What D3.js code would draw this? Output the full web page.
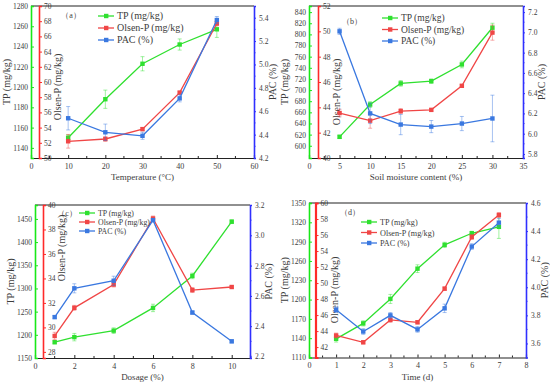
<!DOCTYPE html>
<html>
<head>
    <meta charset="UTF-8">
    <title>TP, Olsen-P and PAC</title>
<style>
    body { margin: 0; background: #fff; }
    svg text { font-family: "Liberation Serif", "Times New Roman", Times, serif !important; font-weight: normal; }
</style>
</head>
<body>
<svg width="550" height="386"></svg>
<script src="https://d3js.org/d3.v7.min.js"></script>
<script>

    // ---- data ----
    var tempX = [10, 20, 30, 40, 50];
    var tempTP = [1150, 1188, 1223, 1242, 1257];
    var tempTPErr = [3, 9, 7, 5.5, 8];
    var tempOlsen = [52.2, 52.5, 53.8, 58.6, 67.7];
    var tempOlsenErr = [0.9, 0.3, 0.2, 0.2, 0.3];
    var tempPAC = [4.54, 4.42, 4.39, 4.71, 5.38];
    var tempPACErr = [0.1, 0.07, 0.03, 0.03, 0.03];

    var moistX = [5, 10, 15, 20, 25, 30];
    var moistTP = [616, 674, 712, 716, 746, 812];
    var moistTPErr = [3, 5, 5, 4, 6, 8];
    var moistOlsen = [43.55, 42.95, 43.7, 43.8, 45.7, 49.9];
    var moistOlsenErr = [0.3, 0.6, 0.2, 0.1, 0.1, 0.6];
    var moistPAC = [7.01, 6.20, 6.09, 6.07, 6.10, 6.15];
    var moistPACErr = [0.03, 0.1, 0.1, 0.06, 0.07, 0.23];

    var doseX = [1, 2, 4, 6, 8, 10];
    var doseTP = [1184, 1195, 1209, 1258, 1327, 1444];
    var doseTPErr = [3, 8, 6, 8, 6, 4];
    var doseOlsen = [29.3, 31.6, 33.5, 38.9, 33.05, 33.3];
    var doseOlsenErr = [0.3, 0.2, 0.2, 0.2, 0.2, 0.1];
    var dosePAC = [2.46, 2.65, 2.70, 3.10, 2.49, 2.30];
    var dosePACErr = [0.01, 0.03, 0.03, 0.01, 0.01, 0.01];

    var timeX = [1, 2, 3, 4, 5, 6, 7];
    var timeTP = [1139, 1163, 1201, 1248, 1285, 1303, 1313];
    var timeTPErr = [5, 4, 7, 6, 4, 3, 18];
    var timeOlsen = [43.45, 42.6, 45.4, 45.1, 49.3, 55.75, 58.5];
    var timeOlsenErr = [0.3, 0.2, 0.3, 0.2, 0.2, 0.3, 0.3];
    var timePAC = [3.84, 3.685, 3.80, 3.70, 3.85, 4.29, 4.46];
    var timePACErr = [0.02, 0.02, 0.02, 0.02, 0.03, 0.02, 0.03];

    var seriesNames = ["TP (mg/kg)", "Olsen-P (mg/kg)", "PAC (%)"];

    var green = "#2fe02f", red = "#f04646", blue = "#3a78e0";
    var greenAxis = "#18e818", redAxis = "#ff2a2a", blueAxis = "#3030ff";
    var serif = "'Liberation Serif', 'Times New Roman', serif";
    var txt = "#3c3c3c";

    var svg = d3.select("svg");

    function rangeTicks(a, b, s) {
        return d3.range(a, b + s / 2, s).map(function(v) { return +v.toFixed(3); });
    }

    function styleTicks(sel, size) {
        sel.attr("font-family", serif);
        sel.selectAll("text").attr("font-size", size).attr("fill", txt);
    }

    function drawPanel(p) {
        var g = svg.append("g").attr("font-family", serif);

        var x = d3.scaleLinear().domain(p.xDomain).range([p.xL, p.xR]);
        var yTP = d3.scaleLinear().domain(p.tpDomain).range([p.yB, p.yT]);
        var yOl = d3.scaleLinear().domain(p.olDomain).range([p.yB, p.yT]);
        var yPAC = d3.scaleLinear().domain(p.pacDomain).range([p.yB, p.yT]);

        // top of the frame
        g.append("line").attr("x1", p.xL).attr("x2", p.xR).attr("y1", p.yT).attr("y2", p.yT)
            .attr("stroke", "#222").attr("stroke-width", 1.2);

        // x axis
        var xAxis = d3.axisBottom(x).tickValues(p.xTicks).tickSize(-3).tickPadding(5)
            .tickFormat(d3.format("d"));
        var gx = g.append("g").attr("transform", "translate(0," + p.yB + ")").call(xAxis);
        gx.select(".domain").attr("stroke", "#222").attr("stroke-width", 1.2);
        gx.selectAll(".tick line").attr("stroke", "#222");
        styleTicks(gx, 8);
        var minor = [];
        for (var i = 0; i < p.xTicks.length; i++) {
            var mid = p.xTicks[i] + p.xStep / 2;
            if (mid < p.xDomain[1]) minor.push(mid);
        }
        g.selectAll(".xminor").data(minor).enter().append("line")
            .attr("x1", function(d) { return x(d); }).attr("x2", function(d) { return x(d); })
            .attr("y1", p.yB).attr("y2", p.yB - 2).attr("stroke", "#222");

        // TP axis (green, outer left)
        var gTP = g.append("g").attr("transform", "translate(" + p.xL + ",0)")
            .call(d3.axisLeft(yTP).tickValues(p.tpTicks).tickSize(-3).tickPadding(3)
                .tickFormat(d3.format("d")));
        gTP.select(".domain").attr("stroke", greenAxis).attr("stroke-width", 1.6);
        gTP.selectAll(".tick line").attr("stroke", greenAxis);
        styleTicks(gTP, 7.5);

        // Olsen-P axis (red, inner left, labels inside the plot)
        var gOl = g.append("g").attr("transform", "translate(" + p.redX + ",0)")
            .call(d3.axisRight(yOl).tickValues(p.olTicks).tickSize(3).tickPadding(2)
                .tickFormat(d3.format("d")));
        gOl.select(".domain").attr("stroke", redAxis).attr("stroke-width", p.redW || 1.6);
        gOl.selectAll(".tick line").attr("stroke", redAxis);
        styleTicks(gOl, 7.5);

        // PAC axis (blue, right)
        var gP = g.append("g").attr("transform", "translate(" + p.xR + ",0)")
            .call(d3.axisRight(yPAC).tickValues(p.pacTicks).tickSize(2).tickPadding(3)
                .tickFormat(d3.format(".1f")));
        gP.select(".domain").attr("stroke", blueAxis).attr("stroke-width", 1.6);
        gP.selectAll(".tick line").attr("stroke", blueAxis);
        styleTicks(gP, 7.5);
        var pMinor = [];
        for (var j = 0; j < p.pacTicks.length; j++) {
            var pm = p.pacTicks[j] + 0.1;
            if (pm < p.pacDomain[1]) pMinor.push(pm);
        }
        g.selectAll(".pminor").data(pMinor).enter().append("line")
            .attr("x1", p.xR).attr("x2", p.xR + 1.5)
            .attr("y1", function(d) { return yPAC(d); }).attr("y2", function(d) { return yPAC(d); })
            .attr("stroke", blueAxis);

        // axis titles
        var midY = (p.yT + p.yB) / 2;
        g.append("text").attr("transform", "translate(" + (p.xL - 21) + "," + midY + ") rotate(-90)")
            .attr("text-anchor", "middle").attr("font-size", 10).attr("fill", txt).text("TP (mg/kg)");
        g.append("text").attr("transform", "translate(" + (p.redX + 22) + "," + p.olTitleY + ") rotate(-90)")
            .attr("text-anchor", "middle").attr("font-size", 10).attr("fill", txt).text("Olsen-P (mg/kg)");
        g.append("text").attr("transform", "translate(" + (p.xR + 22) + "," + midY + ") rotate(-90)")
            .attr("text-anchor", "middle").attr("font-size", 10).attr("fill", txt).text("PAC (%)");
        g.append("text").attr("x", (p.xL + p.xR) / 2).attr("y", p.yB + 22)
            .attr("text-anchor", "middle").attr("font-size", 9).attr("fill", txt).text(p.xTitle);
        g.append("text").attr("x", p.labelX).attr("y", p.labelY)
            .attr("text-anchor", "middle").attr("font-size", 8).attr("fill", txt).text(p.label);

        // series
        var series = [
            { vals: p.tp, err: p.tpErr, y: yTP, color: green },
            { vals: p.ol, err: p.olErr, y: yOl, color: red },
            { vals: p.pac, err: p.pacErr, y: yPAC, color: blue }
        ];

        series.forEach(function(s) {
            var pts = p.xs.map(function(xv, k) { return { x: xv, v: s.vals[k], e: s.err[k] }; });
            var line = d3.line().x(function(d) { return x(d.x); }).y(function(d) { return s.y(d.v); });
            var sg = g.append("g");
            sg.selectAll(".err").data(pts).enter().append("path")
                .attr("d", function(d) {
                    var cx = x(d.x), y1 = s.y(d.v + d.e), y2 = s.y(d.v - d.e);
                    return "M" + cx + "," + y1 + "V" + y2 +
                        "M" + (cx - 2) + "," + y1 + "H" + (cx + 2) +
                        "M" + (cx - 2) + "," + y2 + "H" + (cx + 2);
                })
                .attr("stroke", s.color).attr("stroke-opacity", 0.5).attr("stroke-width", 0.9)
                .attr("fill", "none");
            sg.append("path").datum(pts).attr("d", line)
                .attr("fill", "none").attr("stroke", s.color).attr("stroke-width", 1.3);
            sg.selectAll("rect").data(pts).enter().append("rect")
                .attr("x", function(d) { return x(d.x) - 2.2; })
                .attr("y", function(d) { return s.y(d.v) - 2.2; })
                .attr("width", 4.4).attr("height", 4.4).attr("fill", s.color);
        });

        // legend
        var lg = g.append("g").attr("transform", "translate(" + p.legX + "," + p.legY + ")");
        [green, red, blue].forEach(function(c, k) {
            var yy = k * p.legStep;
            lg.append("line").attr("x1", 0).attr("x2", 16).attr("y1", yy).attr("y2", yy)
                .attr("stroke", c).attr("stroke-width", 1.3);
            lg.append("rect").attr("x", 6).attr("y", yy - 2.2).attr("width", 4.4).attr("height", 4.4)
                .attr("fill", c);
            lg.append("text").attr("x", 19).attr("y", yy + 3).attr("font-size", p.legFont)
                .attr("fill", txt).text(seriesNames[k]);
        });
    }

    drawPanel({
        xL: 31, xR: 254, yT: 6, yB: 158, redX: 39,
        xDomain: [0, 60], xTicks: rangeTicks(0, 60, 10), xStep: 10,
        tpDomain: [1130, 1280], tpTicks: rangeTicks(1140, 1280, 20),
        olDomain: [50, 70], olTicks: rangeTicks(50, 70, 2),
        pacDomain: [4.2, 5.5], pacTicks: rangeTicks(4.2, 5.4, 0.2),
        xs: tempX, tp: tempTP, tpErr: tempTPErr, ol: tempOlsen, olErr: tempOlsenErr,
        pac: tempPAC, pacErr: tempPACErr,
        xTitle: "Temperature (°C)", label: "（a）", labelX: 71, labelY: 18,
        olTitleY: 87, legX: 98, legY: 16, legStep: 12, legFont: 10
    });

    drawPanel({
        xL: 309, xR: 523, yT: 6, yB: 158, redX: 318,
        xDomain: [0, 35], xTicks: rangeTicks(0, 35, 5), xStep: 5,
        tpDomain: [578, 851], tpTicks: rangeTicks(600, 840, 20),
        olDomain: [40, 52], olTicks: rangeTicks(40, 52, 2),
        pacDomain: [5.76, 7.26], pacTicks: rangeTicks(5.8, 7.2, 0.2),
        xs: moistX, tp: moistTP, tpErr: moistTPErr, ol: moistOlsen, olErr: moistOlsenErr,
        pac: moistPAC, pacErr: moistPACErr,
        xTitle: "Soil moisture content (%)", label: "（b）", labelX: 352, labelY: 24,
        olTitleY: 92, legX: 382, legY: 18, legStep: 11.5, legFont: 9.5
    });

    drawPanel({
        xL: 35, xR: 250, yT: 205, yB: 358, redX: 43,
        xDomain: [0, 10.93], xTicks: rangeTicks(0, 10, 2), xStep: 2,
        tpDomain: [1150, 1480], tpTicks: rangeTicks(1150, 1450, 50),
        olDomain: [27.5, 40], olTicks: rangeTicks(28, 40, 2),
        pacDomain: [2.19, 3.2], pacTicks: rangeTicks(2.2, 3.2, 0.2),
        xs: doseX, tp: doseTP, tpErr: doseTPErr, ol: doseOlsen, olErr: doseOlsenErr,
        pac: dosePAC, pacErr: dosePACErr,
        xTitle: "Dosage (%)", label: "（c）", labelX: 67, labelY: 216,
        olTitleY: 248, legX: 79, legY: 213, legStep: 9, legFont: 7.8
    });

    drawPanel({
        xL: 309, xR: 526, yT: 203, yB: 357.5, redX: 315.5, redW: 2.2,
        xDomain: [0, 8], xTicks: rangeTicks(0, 8, 1), xStep: 1,
        tpDomain: [1110, 1350], tpTicks: rangeTicks(1110, 1350, 30),
        olDomain: [40.7, 60], olTicks: rangeTicks(42, 60, 2),
        pacDomain: [3.5, 4.6], pacTicks: rangeTicks(3.6, 4.6, 0.2),
        xs: timeX, tp: timeTP, tpErr: timeTPErr, ol: timeOlsen, olErr: timeOlsenErr,
        pac: timePAC, pacErr: timePACErr,
        xTitle: "Time (d)", label: "（d）", labelX: 350, labelY: 215,
        olTitleY: 290, legX: 361, legY: 222, legStep: 10.5, legFont: 8.2
    });

</script>
</body>
</html>
